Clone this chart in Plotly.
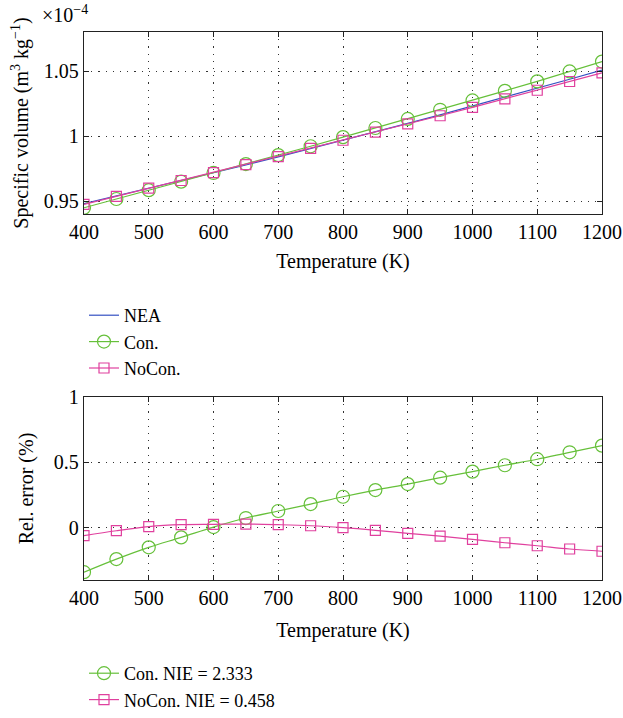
import plotly.graph_objects as go

W, H = 623, 718

temperature = [400, 450, 500, 550, 600, 650, 700, 750, 800, 850, 900, 950, 1000, 1050, 1100, 1150, 1200]

# specific volume in units of 1e-4 m^3/kg
nea = [0.9483, 0.9541, 0.9600, 0.9658, 0.9718, 0.9779, 0.9842, 0.9905, 0.9969,
       1.0034, 1.0099, 1.0164, 1.0231, 1.0299, 1.0367, 1.0437, 1.0507]
con = [0.9451, 0.9518, 0.9586, 0.9651, 0.9718, 0.9786, 0.9855, 0.9923, 0.9993,
       1.0063, 1.0133, 1.0203, 1.0275, 1.0348, 1.0421, 1.0497, 1.0573]
nocon = [0.9477, 0.9539, 0.9601, 0.9660, 0.9721, 0.9782, 0.9844, 0.9906, 0.9969,
         1.0032, 1.0095, 1.0157, 1.0222, 1.0287, 1.0353, 1.0420, 1.0487]

# relative error (%)
err_con = [-0.34, -0.24, -0.15, -0.074, 0.005, 0.074, 0.128, 0.181, 0.237,
           0.288, 0.334, 0.383, 0.429, 0.478, 0.524, 0.577, 0.628]
err_nocon = [-0.061, -0.023, 0.008, 0.023, 0.026, 0.028, 0.023, 0.015, 0.0,
             -0.02, -0.043, -0.064, -0.089, -0.115, -0.138, -0.163, -0.18]

x_ticks = [400, 500, 600, 700, 800, 900, 1000, 1100, 1200]
y1_ticks = [0.95, 1.0, 1.05]
y1_text = ["0.95", "1", "1.05"]
y2_ticks = [0, 0.5, 1]
y2_text = ["0", "0.5", "1"]

BLUE = "#3350C2"
GREEN = "#66C03A"
MAGENTA = "#E0409E"
FONT = "Liberation Serif"
FS = 20
LFS = 18

fig = go.Figure()
fig.add_trace(go.Scatter(x=temperature, y=nea, mode="lines", name="NEA",
                         line=dict(color=BLUE, width=1.2), xaxis="x", yaxis="y", legend="legend"))
fig.add_trace(go.Scatter(x=temperature, y=con, mode="lines+markers", name="Con.",
                         line=dict(color=GREEN, width=1.2),
                         marker=dict(symbol="circle-open", size=13, color=GREEN, line=dict(width=1.2)),
                         xaxis="x", yaxis="y", legend="legend"))
fig.add_trace(go.Scatter(x=temperature, y=nocon, mode="lines+markers", name="NoCon.",
                         line=dict(color=MAGENTA, width=1.2),
                         marker=dict(symbol="square-open", size=10, color=MAGENTA, line=dict(width=1.2)),
                         xaxis="x", yaxis="y", legend="legend"))

fig.add_trace(go.Scatter(x=temperature, y=err_con, mode="lines+markers", name="Con. NIE = 2.333",
                         line=dict(color=GREEN, width=1.2, shape="spline"),
                         marker=dict(symbol="circle-open", size=13, color=GREEN, line=dict(width=1.2)),
                         xaxis="x2", yaxis="y2", legend="legend2"))
fig.add_trace(go.Scatter(x=temperature, y=err_nocon, mode="lines+markers", name="NoCon. NIE = 0.458",
                         line=dict(color=MAGENTA, width=1.2, shape="spline"),
                         marker=dict(symbol="square-open", size=10, color=MAGENTA, line=dict(width=1.2)),
                         xaxis="x2", yaxis="y2", legend="legend2"))

xdom = [84 / W, 602 / W]
y1dom = [1 - 214 / H, 1 - 32 / H]
y2dom = [1 - 580 / H, 1 - 397 / H]

axis_common = dict(showline=True, linecolor="#222", linewidth=1.3, mirror="allticks",
                   ticks="inside", ticklen=5, tickcolor="#222", automargin=False,
                   showgrid=True, gridcolor="#333", griddash="1.2px,6px", gridwidth=1.2,
                   zeroline=False, tickfont=dict(family=FONT, size=FS, color="black"))

fig.update_layout(
    width=W, height=H,
    margin=dict(l=0, r=0, t=0, b=0),
    paper_bgcolor="white", plot_bgcolor="white",
    font=dict(family=FONT, size=FS, color="black"),
    xaxis=dict(domain=xdom, anchor="y", range=[400, 1200], tickvals=x_ticks,
               title=dict(text="Temperature (K)", standoff=11, font=dict(family=FONT, size=FS)),
               **axis_common),
    yaxis=dict(domain=y1dom, anchor="x", range=[0.9403, 1.08], tickvals=y1_ticks, ticktext=y1_text,
               title=dict(text="Specific volume (m<sup>3</sup> kg<sup>−1</sup>)", standoff=9,
                          font=dict(family=FONT, size=FS)),
               **axis_common),
    xaxis2=dict(domain=xdom, anchor="y2", range=[400, 1200], tickvals=x_ticks,
                title=dict(text="Temperature (K)", standoff=14, font=dict(family=FONT, size=FS)),
                **axis_common),
    yaxis2=dict(domain=y2dom, anchor="x2", range=[-0.4, 1.0], tickvals=y2_ticks, ticktext=y2_text,
                title=dict(text="Rel. error (%)", standoff=14, font=dict(family=FONT, size=FS)),
                **axis_common),
    legend=dict(x=84 / W, y=1 - 297 / H, xanchor="left", yanchor="top",
                bgcolor="rgba(0,0,0,0)", font=dict(family=FONT, size=LFS), tracegroupgap=0),
    legend2=dict(x=84 / W, y=0, xanchor="left", yanchor="bottom",
                 bgcolor="rgba(0,0,0,0)", font=dict(family=FONT, size=LFS), tracegroupgap=0),
    showlegend=True,
)

fig.add_annotation(text="×10<sup>−4</sup>", xref="paper", yref="paper", x=40 / W, y=1 - 0 / H,
                   xanchor="left", yanchor="top", showarrow=False,
                   font=dict(family=FONT, size=FS, color="black"))

fig.write_html("out.html")
